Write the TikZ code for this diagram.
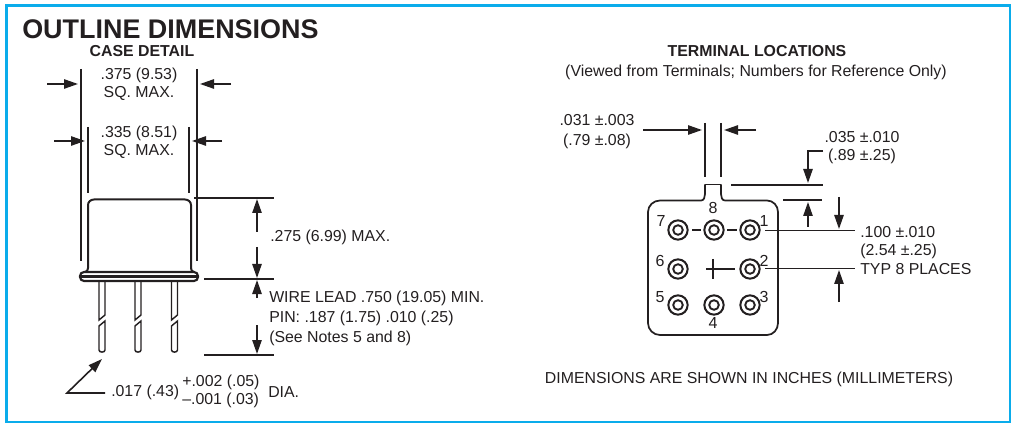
\documentclass[tikz,border=0pt]{standalone}
\usepackage{fontspec}
\setmainfont{Liberation Sans}
\usetikzlibrary{arrows.meta}
\definecolor{frameblue}{RGB}{10,172,235}
\definecolor{ink}{RGB}{35,31,32}
\tikzset{
  x=0.75pt,y=-0.75pt,
  line/.style={draw=ink,line width=1.3pt},
  thin line/.style={draw=ink,line width=1.1pt},
  dimarrow/.style={draw=ink,line width=1.2pt,-{Triangle[length=10.5pt,width=7pt]}},
  lbl/.style={text=ink,font=\fontsize{11.9pt}{14pt}\selectfont,inner sep=0pt,align=center},
  lbll/.style={lbl,anchor=west,align=left},
  digit/.style={lbl,font=\fontsize{12pt}{14pt}\selectfont},
  pad/.style={draw=ink,line width=1.5pt,circle,inner sep=0pt,minimum size=14.5pt,path picture={\draw[ink,line width=1.4pt] (path picture bounding box.center) circle (3.6pt);}},
}
\begin{document}
\begin{tikzpicture}
\useasboundingbox (0,0) rectangle (1011,424);
\draw[frameblue,line width=2.1pt] (6.5,5.5) rectangle (1010,422);
\node[anchor=west,inner sep=0pt,text=ink,font=\bfseries\fontsize{20.2pt}{22pt}\selectfont] (title) at (22,29) {OUTLINE DIMENSIONS};
\node[lbl,font=\bfseries\fontsize{11.9pt}{14pt}\selectfont] (casedetail) at (142,51) {CASE DETAIL};
\node[lbl,font=\fontsize{11.9pt}{13.5pt}\selectfont] (d375) at (139,84) {.375 (9.53)\\SQ. MAX.};
\node[lbl,font=\fontsize{11.9pt}{13.8pt}\selectfont] (d335) at (139,142.5) {.335 (8.51)\\SQ. MAX.};
% case extension lines
\coordinate (o1t) at (81,69); \coordinate (o1b) at (81,261);
\coordinate (o2t) at (197,69); \coordinate (o2b) at (197,261);
\coordinate (i1t) at (88,127); \coordinate (i1b) at (88,193);
\coordinate (i2t) at (189,127); \coordinate (i2b) at (189,193);
\draw[line] (o1t)--(o1b); \draw[line] (o2t)--(o2b);
\draw[thin line] (i1t)--(i1b); \draw[line] (i2t)--(i2b);
\coordinate (a1) at (47,84); \coordinate (a1e) at (78,84);
\coordinate (a2) at (231,84); \coordinate (a2e) at (200,84);
\coordinate (a3) at (54,141); \coordinate (a3e) at (85,141);
\coordinate (a4) at (222,141); \coordinate (a4e) at (192,141);
\draw[dimarrow] (a1)--(a1e); \draw[dimarrow] (a2)--(a2e);
\draw[dimarrow] (a3)--(a3e); \draw[dimarrow] (a4)--(a4e);
% can
\draw[line,line width=1.5pt] (85,272) to[out=0,in=-90] (88,268)--(88,205) to[out=90,in=180] (94,199.5)--(185,199.5) to[out=0,in=90] (191,205)--(191,268) to[out=-90,in=180] (194,272);
\draw[line,line width=1.6pt,rounded corners=3pt] (80,272) rectangle (198,281);
\draw[line,line width=1.6pt] (80,276.5)--(198,276.5);
% leads
\foreach \x in {102,138,174.5}{
  \draw[thin line] (\x-3,282)--(\x-3,320)--(\x+3,315)--(\x+3,282);
  \draw[thin line] (\x-3,350)--(\x-3,326)--(\x+3,321)--(\x+3,350) to[out=-90,in=-90,looseness=1.2] (\x-3,350);
}
% right dims
\coordinate (h1) at (194,198); \coordinate (h1e) at (274,198);
\coordinate (h2) at (204,279); \coordinate (h2e) at (274,279);
\coordinate (h3) at (204,355); \coordinate (h3e) at (274,355);
\draw[thin line] (h1)--(h1e); \draw[thin line] (h2)--(h2e); \draw[thin line] (h3)--(h3e);
\coordinate (v1) at (257,232); \coordinate (v1e) at (257,199);
\coordinate (v2) at (257,247); \coordinate (v2e) at (257,278);
\coordinate (v3) at (257,298); \coordinate (v3e) at (257,280);
\coordinate (v4) at (257,325); \coordinate (v4e) at (257,354);
\draw[dimarrow] (v1)--(v1e); \draw[dimarrow] (v2)--(v2e);
\draw[dimarrow] (v3)--(v3e); \draw[dimarrow] (v4)--(v4e);
\node[lbll] (d275) at (270,237) {.275 (6.99) MAX.};
\node[lbll,font=\fontsize{11.9pt}{15pt}\selectfont] (wire) at (269,318) {WIRE LEAD .750 (19.05) MIN.\\PIN: .187 (1.75) .010 (.25)\\(See Notes 5 and 8)};
% dia leader
\coordinate (l1) at (105,393); \coordinate (l2) at (67,393); \coordinate (l3) at (102,359);
\draw[dimarrow] (l1)--(l2)--(l3);
\node[lbll] (d017) at (111,392) {.017 (.43)};
\node[lbll] (tol) at (182,391.5) {+.002 (.05)\\–.001 (.03)};
\node[lbll] (dia) at (268,392) {DIA.};
% right titles
\node[lbl,font=\bfseries\fontsize{11.9pt}{14pt}\selectfont] (tl) at (757,51.5) {TERMINAL LOCATIONS};
\node[lbl] (vf) at (756,72) {(Viewed from Terminals; Numbers for Reference Only)};
\node[lbl,font=\fontsize{11.9pt}{15pt}\selectfont] (d031) at (597,132) {.031 ±.003\\(.79 ±.08)};
\coordinate (t1) at (705,123); \coordinate (t1b) at (705,177);
\coordinate (t2) at (721,123); \coordinate (t2b) at (721,177);
\draw[thin line] (t1)--(t1b); \draw[thin line] (t2)--(t2b);
\coordinate (b1) at (643,130); \coordinate (b1e) at (702,130);
\coordinate (b2) at (756,130); \coordinate (b2e) at (724,130);
\draw[dimarrow] (b1)--(b1e); \draw[dimarrow] (b2)--(b2e);
% .035
\node[lbl,font=\fontsize{11.9pt}{14pt}\selectfont] (d035) at (862,147.5) {.035 ±.010\\(.89 ±.25)};
\coordinate (c0) at (823,151); \coordinate (c1) at (808,151); \coordinate (c2) at (808,183);
\draw[dimarrow] (c0)--(c1)--(c2);
\coordinate (e1) at (731,185); \coordinate (e1e) at (823,185);
\coordinate (e2) at (783,200); \coordinate (e2e) at (822,200);
\draw[thin line] (e1)--(e1e); \draw[thin line] (e2)--(e2e);
\coordinate (f1) at (808,227); \coordinate (f1e) at (808,202);
\draw[dimarrow] (f1)--(f1e);
% body
\draw[line] (705,184.5)--(721,184.5);
\draw[line] (705,184.5)--(705,194) to[out=-90,in=0] (701,200.5) -- (660,200.5)
  to[out=180,in=90] (648,212)--(648,323) to[out=-90,in=180] (660,335)--(767,335)
  to[out=0,in=-90] (778,323)--(778,212) to[out=90,in=0] (767,200.5)--(725,200.5) to[out=180,in=-90] (721,194)--(721,184.5);
% pads
\node[pad] (p7) at (678,230) {};
\node[pad] (p8) at (714,230) {};
\node[pad] (p1) at (750,230) {};
\node[pad] (p6) at (678,269) {};
\node[pad] (p2) at (750,269) {};
\node[pad] (p5) at (678,305) {};
\node[pad] (p4) at (714,305) {};
\node[pad] (p3) at (750,305) {};
\coordinate (dd1) at (692,230); \coordinate (dd2) at (701,230);
\coordinate (dd3) at (727,230); \coordinate (dd4) at (737,230);
\draw[line] (dd1)--(dd2); \draw[line] (dd3)--(dd4);
\coordinate (ca) at (706,269); \coordinate (cb) at (735,269);
\coordinate (cc) at (713,259); \coordinate (cd) at (713,279);
\draw[thin line] (ca)--(cb); \draw[thin line] (cc)--(cd);
\node[digit] (n7) at (661,221) {7};
\node[digit] (n8) at (713,208) {8};
\node[digit] (n1) at (764,221) {1};
\node[digit] (n6) at (660,261) {6};
\node[digit] (n2) at (764,261) {2};
\node[digit] (n5) at (660,297) {5};
\node[digit] (n3) at (764,297) {3};
\node[digit] (n4) at (713,323) {4};
% 100 dim
\coordinate (g1) at (765,230.5); \coordinate (g1e) at (855,230.5);
\coordinate (g2) at (765,268.5); \coordinate (g2e) at (855,268.5);
\draw[line] (g1)--(g1e); \draw[line] (g2)--(g2e);
\coordinate (m1) at (839,197); \coordinate (m1e) at (839,229);
\coordinate (m2) at (839,302); \coordinate (m2e) at (839,270);
\draw[dimarrow] (m1)--(m1e); \draw[dimarrow] (m2)--(m2e);
\node[lbll,font=\fontsize{11.9pt}{13.9pt}\selectfont] (d100) at (860,250.5) {.100 ±.010\\(2.54 ±.25)\\TYP 8 PLACES};
\node[lbl] (note) at (749,379) {DIMENSIONS ARE SHOWN IN INCHES (MILLIMETERS)};
\end{tikzpicture}
\end{document}
